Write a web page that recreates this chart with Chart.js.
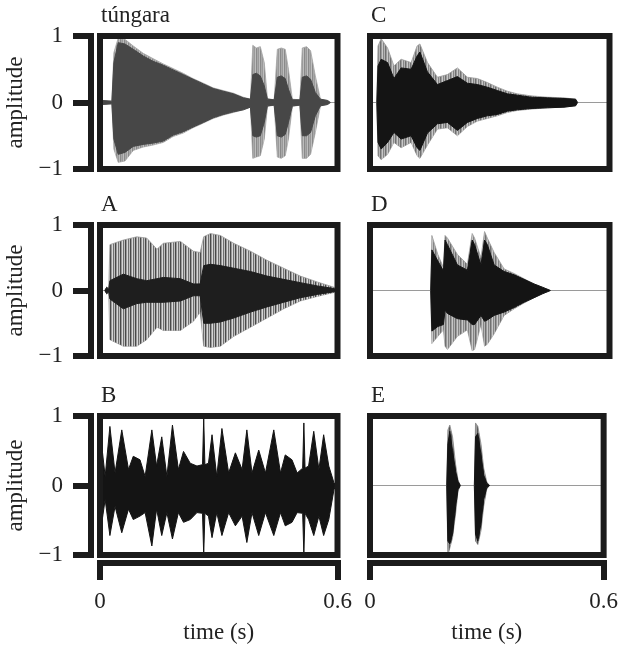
<!DOCTYPE html>
<html>
<head>
<meta charset="utf-8">
<script src="https://cdn.jsdelivr.net/npm/chart.js@4"></script>
<style>
  body { margin: 0; background: #fff; }
  #wrap { position: relative; width: 626px; height: 649px; overflow: hidden; background: #fff; }
  canvas { position: absolute; }
</style>
</head>
<body>
<div id="wrap">
  <canvas id="pTungara" width="360" height="195" style="left:0px;top:0px"></canvas>
  <canvas id="pC" width="281" height="195" style="left:345px;top:0px"></canvas>
  <canvas id="pA" width="360" height="190" style="left:0px;top:195px"></canvas>
  <canvas id="pD" width="281" height="190" style="left:345px;top:195px"></canvas>
  <canvas id="pB" width="360" height="264" style="left:0px;top:385px"></canvas>
  <canvas id="pE" width="281" height="264" style="left:345px;top:385px"></canvas>
</div>
<script>
// axis ticks
const timeTicks = [0, 0.6];
const timeTickLabels = ['0', '0.6'];
const ampTicks = [-1, 0, 1];
const ampTickLabels = ['\u22121', '0', '1'];

// waveform envelopes (time in s, amplitude -1..1)
// body = dense dark part, peak = outer spikes
const tungaraT      = [0, 0.005, 0.030, 0.035, 0.046, 0.063, 0.084, 0.109, 0.134, 0.160, 0.185, 0.210, 0.235, 0.261, 0.286, 0.311, 0.337, 0.362, 0.380, 0.386, 0.395, 0.405, 0.415, 0.423, 0.440, 0.448, 0.458, 0.468, 0.476, 0.486, 0.505, 0.511, 0.522, 0.532, 0.544, 0.557, 0.575, 0.582];
const tungaraBodyHi = [0, 0.03, 0.02, 0.60, 0.90, 0.88, 0.80, 0.70, 0.62, 0.56, 0.49, 0.42, 0.35, 0.28, 0.21, 0.17, 0.13, 0.07, 0.05, 0.42, 0.44, 0.40, 0.25, 0.05, 0.04, 0.38, 0.40, 0.36, 0.20, 0.04, 0.04, 0.38, 0.40, 0.35, 0.15, 0.05, 0.03, 0];
const tungaraBodyLo = [0, -0.03, -0.02, -0.55, -0.78, -0.75, -0.66, -0.63, -0.61, -0.58, -0.49, -0.44, -0.37, -0.30, -0.23, -0.18, -0.14, -0.11, -0.07, -0.50, -0.52, -0.50, -0.30, -0.05, -0.04, -0.50, -0.52, -0.48, -0.30, -0.05, -0.04, -0.50, -0.50, -0.45, -0.20, -0.05, -0.03, 0];
const tungaraPeakHi = [0, 0.03, 0.02, 0.75, 0.97, 0.95, 0.85, 0.74, 0.66, 0.58, 0.51, 0.44, 0.36, 0.29, 0.22, 0.18, 0.14, 0.08, 0.05, 0.86, 0.82, 0.84, 0.60, 0.06, 0.04, 0.80, 0.82, 0.80, 0.50, 0.05, 0.04, 0.82, 0.84, 0.78, 0.40, 0.05, 0.03, 0];
const tungaraPeakLo = [0, -0.03, -0.02, -0.70, -0.90, -0.88, -0.72, -0.67, -0.64, -0.60, -0.51, -0.46, -0.38, -0.31, -0.24, -0.19, -0.15, -0.11, -0.07, -0.84, -0.82, -0.80, -0.55, -0.06, -0.04, -0.82, -0.84, -0.80, -0.55, -0.06, -0.04, -0.84, -0.84, -0.78, -0.45, -0.05, -0.03, 0];

const cT      = [0, 0.017, 0.020, 0.028, 0.044, 0.060, 0.078, 0.103, 0.118, 0.125, 0.144, 0.169, 0.194, 0.219, 0.244, 0.269, 0.294, 0.319, 0.344, 0.369, 0.403, 0.444, 0.486, 0.515, 0.520, 0.600];
const cBodyHi = [0, 0, 0.55, 0.65, 0.60, 0.36, 0.52, 0.50, 0.70, 0.76, 0.46, 0.27, 0.33, 0.39, 0.29, 0.27, 0.23, 0.18, 0.13, 0.11, 0.08, 0.07, 0.06, 0.05, 0, 0];
const cBodyLo = [0, 0, -0.60, -0.70, -0.60, -0.45, -0.55, -0.50, -0.68, -0.72, -0.46, -0.32, -0.30, -0.42, -0.30, -0.24, -0.20, -0.18, -0.13, -0.11, -0.09, -0.08, -0.07, -0.05, 0, 0];
const cPeakHi = [0, 0, 0.85, 0.96, 0.82, 0.55, 0.65, 0.60, 0.85, 0.88, 0.60, 0.38, 0.42, 0.52, 0.38, 0.36, 0.30, 0.23, 0.17, 0.13, 0.10, 0.08, 0.07, 0.05, 0, 0];
const cPeakLo = [0, 0, -0.80, -0.86, -0.78, -0.60, -0.68, -0.60, -0.80, -0.84, -0.64, -0.40, -0.38, -0.50, -0.36, -0.28, -0.24, -0.20, -0.15, -0.12, -0.10, -0.08, -0.07, -0.05, 0, 0];

const aT      = [0, 0.012, 0.017, 0.022, 0.025, 0.059, 0.093, 0.118, 0.144, 0.160, 0.203, 0.236, 0.253, 0.262, 0.279, 0.304, 0.338, 0.380, 0.422, 0.464, 0.506, 0.549, 0.591, 0.600];
const aBodyHi = [0, 0, 0.05, 0.02, 0.15, 0.25, 0.18, 0.15, 0.18, 0.20, 0.18, 0.10, 0.10, 0.38, 0.40, 0.38, 0.34, 0.29, 0.22, 0.17, 0.12, 0.07, 0.03, 0];
const aBodyLo = [0, 0, -0.05, -0.02, -0.13, -0.28, -0.20, -0.18, -0.18, -0.18, -0.16, -0.08, -0.08, -0.50, -0.50, -0.48, -0.42, -0.33, -0.25, -0.18, -0.11, -0.06, -0.02, 0];
const aPeakHi = [0, 0, 0.05, 0.02, 0.70, 0.77, 0.82, 0.80, 0.63, 0.72, 0.75, 0.60, 0.58, 0.82, 0.87, 0.84, 0.72, 0.60, 0.46, 0.34, 0.22, 0.13, 0.05, 0];
const aPeakLo = [0, 0, -0.05, -0.02, -0.75, -0.85, -0.85, -0.75, -0.56, -0.61, -0.61, -0.47, -0.33, -0.85, -0.87, -0.85, -0.70, -0.56, -0.42, -0.28, -0.16, -0.09, -0.03, 0];

const dT      = [0, 0.152, 0.155, 0.170, 0.184, 0.188, 0.194, 0.219, 0.244, 0.256, 0.262, 0.278, 0.287, 0.294, 0.311, 0.336, 0.361, 0.386, 0.411, 0.432, 0.452, 0.600];
const dBodyHi = [0, 0, 0.62, 0.45, 0.30, 0.77, 0.70, 0.39, 0.31, 0.77, 0.70, 0.39, 0.77, 0.70, 0.39, 0.29, 0.24, 0.17, 0.10, 0.05, 0, 0];
const dBodyLo = [0, 0, -0.62, -0.55, -0.52, -0.30, -0.35, -0.43, -0.45, -0.52, -0.52, -0.38, -0.47, -0.45, -0.38, -0.33, -0.26, -0.18, -0.11, -0.05, 0, 0];
const dPeakHi = [0, 0, 0.84, 0.55, 0.35, 0.84, 0.80, 0.55, 0.40, 0.87, 0.80, 0.50, 0.90, 0.80, 0.58, 0.33, 0.26, 0.18, 0.10, 0.05, 0, 0];
const dPeakLo = [0, 0, -0.81, -0.70, -0.60, -0.85, -0.90, -0.70, -0.60, -0.92, -0.90, -0.52, -0.85, -0.82, -0.66, -0.38, -0.28, -0.19, -0.11, -0.05, 0, 0];

const bT  = [0, 0.013, 0.025, 0.038, 0.055, 0.072, 0.084, 0.101, 0.114, 0.131, 0.143, 0.156, 0.169, 0.183, 0.198, 0.211, 0.228, 0.245, 0.259, 0.262, 0.265, 0.274, 0.283, 0.295, 0.308, 0.325, 0.342, 0.359, 0.371, 0.384, 0.401, 0.418, 0.439, 0.456, 0.468, 0.485, 0.498, 0.512, 0.515, 0.518, 0.527, 0.540, 0.553, 0.565, 0.578, 0.591, 0.596];
const bHi = [0.80, 0.13, 0.85, 0.18, 0.80, 0.23, 0.42, 0.37, 0.13, 0.80, 0.28, 0.70, 0.13, 0.87, 0.23, 0.49, 0.32, 0.28, 0.30, 0.97, 0.30, 0.32, 0.73, 0.13, 0.82, 0.18, 0.47, 0.23, 0.80, 0.18, 0.51, 0.18, 0.80, 0.18, 0.44, 0.37, 0.18, 0.25, 0.90, 0.25, 0.28, 0.78, 0.23, 0.73, 0.28, 0.04, 0];
const bLo = [-0.72, -0.20, -0.72, -0.30, -0.68, -0.34, -0.49, -0.44, -0.39, -0.87, -0.34, -0.72, -0.39, -0.77, -0.39, -0.53, -0.49, -0.39, -0.40, -1.00, -0.40, -0.44, -0.75, -0.39, -0.72, -0.39, -0.58, -0.44, -0.82, -0.39, -0.72, -0.39, -0.72, -0.39, -0.58, -0.53, -0.39, -0.40, -0.99, -0.40, -0.49, -0.72, -0.44, -0.72, -0.49, -0.06, 0];

const eT      = [0, 0.197, 0.200, 0.205, 0.212, 0.220, 0.226, 0.232, 0.268, 0.271, 0.277, 0.285, 0.292, 0.300, 0.307, 0.600];
const eBodyHi = [0, 0, 0.60, 0.78, 0.50, 0.20, 0.06, 0, 0, 0.70, 0.75, 0.45, 0.15, 0.03, 0, 0];
const eBodyLo = [0, 0, -0.80, -0.84, -0.70, -0.30, -0.06, 0, 0, -0.70, -0.80, -0.55, -0.20, -0.03, 0, 0];
const ePeakHi = [0, 0, 0.80, 0.87, 0.70, 0.30, 0.08, 0, 0, 0.90, 0.85, 0.60, 0.25, 0.05, 0, 0];
const ePeakLo = [0, 0, -1.00, -0.90, -0.75, -0.40, -0.08, 0, 0, -0.80, -0.85, -0.65, -0.30, -0.05, 0, 0];

const INK = '#1b1b1b';
const TXT = '#222';
const SERIF = "'Liberation Serif', 'DejaVu Serif', serif";
const CLEAR = 'rgba(0,0,0,0)';

// vertical stripe pattern so the spike layer looks like separate oscillations
function stripes(ctx, cols) {
    const c = document.createElement('canvas');
    c.width = cols.length;
    c.height = 1;
    const g = c.getContext('2d');
    cols.forEach((col, i) => { g.fillStyle = col; g.fillRect(i, 0, 1, 1); });
    return ctx.createPattern(c, 'repeat');
}

// no outline where the signal is silent, so only the thin zero line shows there
const hideFlat = {
    borderColor: c => (c.p0.parsed.y === 0 && c.p1.parsed.y === 0) ? CLEAR : undefined
};

function framePlugin(label) {
    return {
        id: 'frame',
        afterDatasetsDraw(chart) {
            const { ctx, chartArea: a } = chart;
            ctx.save();
            ctx.strokeStyle = INK;
            ctx.lineWidth = 6;
            ctx.strokeRect(a.left, a.top, a.right - a.left, a.bottom - a.top);
            ctx.fillStyle = TXT;
            ctx.font = '23px ' + SERIF;
            ctx.textBaseline = 'alphabetic';
            ctx.fillText(label, a.left + 1, a.top - 14);
            ctx.restore();
        }
    };
}

function makePanel(id, label, p, opt) {
    const ctx = document.getElementById(id).getContext('2d');
    const pts = ys => p.t.map((x, i) => ({ x: x, y: ys[i] }));
    const datasets = [
        { data: pts(p.hi), fill: '+1', backgroundColor: p.dark, borderColor: p.dark, borderWidth: 1, order: 0, segment: hideFlat },
        { data: pts(p.lo), fill: false, borderColor: p.dark, borderWidth: 1, order: 0, segment: hideFlat }
    ];
    if (p.peakHi) {
        datasets.push({ data: pts(p.peakHi), fill: '+1', backgroundColor: stripes(ctx, p.stripes), borderColor: p.edge, borderWidth: 0.8, order: 1, segment: hideFlat });
        datasets.push({ data: pts(p.peakLo), fill: false, borderColor: p.edge, borderWidth: 0.8, order: 1, segment: hideFlat });
    }

    const scales = {
        x: {
            type: 'linear', min: 0, max: 0.6, position: 'bottom', weight: 0,
            display: opt.bottom,
            ticks: { display: false },
            grid: { display: false },
            border: { display: false },
            afterFit: s => { s.height = 8; }
        },
        y: {
            type: 'linear', min: -1, max: 1, position: 'left', weight: 0,
            afterBuildTicks: s => { s.ticks = ampTicks.map(v => ({ value: v })); },
            ticks: { display: false },
            grid: {
                drawTicks: false,
                lineWidth: 1,
                color: c => (c.tick && c.tick.value === 0) ? '#9a9a9a' : CLEAR
            },
            border: { display: false },
            afterFit: s => { s.width = opt.left ? 9 : 0; }
        }
    };
    if (opt.left) {
        scales.yb = {
            type: 'linear', min: -1, max: 1, position: 'left', weight: 1,
            afterBuildTicks: s => { s.ticks = ampTicks.map(v => ({ value: v })); },
            afterFit: s => { s.width = 91; },
            ticks: {
                padding: 10, color: TXT, font: { family: SERIF, size: 23 },
                callback: (v, i) => ampTickLabels[i]
            },
            grid: { drawOnChartArea: false, drawTicks: true, tickLength: 18, lineWidth: 6, color: INK },
            border: { display: true, width: 6, color: INK },
            title: { display: true, text: 'amplitude', color: TXT, font: { family: SERIF, size: 23 }, padding: { top: 2, bottom: 0 } }
        };
    }
    if (opt.bottom) {
        scales.xb = {
            type: 'linear', min: 0, max: 0.6, position: 'bottom', weight: 1,
            afterBuildTicks: s => { s.ticks = timeTicks.map(v => ({ value: v })); },
            afterFit: s => { s.height = 86; },
            ticks: {
                padding: 8, autoSkip: false, maxRotation: 0, color: TXT, font: { family: SERIF, size: 23 },
                callback: (v, i) => timeTickLabels[i]
            },
            grid: { drawOnChartArea: false, drawTicks: true, tickLength: 17, lineWidth: 6, color: INK },
            border: { display: true, width: 6, color: INK },
            title: { display: true, text: 'time (s)', color: TXT, font: { family: SERIF, size: 23 }, padding: { top: 0, bottom: 2 } }
        };
    }

    return new Chart(ctx, {
        type: 'line',
        data: { datasets: datasets },
        options: {
            responsive: false,
            animation: false,
            devicePixelRatio: 1,
            layout: { padding: opt.pad },
            elements: { point: { radius: 0 }, line: { tension: 0 } },
            plugins: { legend: { display: false }, tooltip: { enabled: false } },
            scales: scales
        },
        plugins: [framePlugin(label)]
    });
}

var chartTungara = makePanel('pTungara', 't\u00fangara',
    { t: tungaraT, hi: tungaraBodyHi, lo: tungaraBodyLo, peakHi: tungaraPeakHi, peakLo: tungaraPeakLo,
      dark: '#474747', edge: '#a6a6a6', stripes: ['#8a8a8a', '#a8a8a8', '#9a9a9a', '#bdbdbd'] },
    { left: true, bottom: false, pad: { left: 0, right: 22.5, top: 36, bottom: 18 } });

var chartC = makePanel('pC', 'C',
    { t: cT, hi: cBodyHi, lo: cBodyLo, peakHi: cPeakHi, peakLo: cPeakLo,
      dark: '#141414', edge: '#9a9a9a', stripes: ['#707070', '#9a9a9a', '#c8c8c8', '#858585', '#b5b5b5'] },
    { left: false, bottom: false, pad: { left: 25, right: 16.5, top: 36, bottom: 18 } });

var chartA = makePanel('pA', 'A',
    { t: aT, hi: aBodyHi, lo: aBodyLo, peakHi: aPeakHi, peakLo: aPeakLo,
      dark: '#1e1e1e', edge: '#9a9a9a', stripes: ['#4a4a4a', '#9a9a9a', '#d8d8d8', '#707070', '#c0c0c0'] },
    { left: true, bottom: false, pad: { left: 0, right: 22.5, top: 30, bottom: 21 } });

var chartD = makePanel('pD', 'D',
    { t: dT, hi: dBodyHi, lo: dBodyLo, peakHi: dPeakHi, peakLo: dPeakLo,
      dark: '#141414', edge: '#9a9a9a', stripes: ['#707070', '#9a9a9a', '#c8c8c8', '#858585', '#b5b5b5'] },
    { left: false, bottom: false, pad: { left: 25, right: 16.5, top: 30, bottom: 21 } });

var chartB = makePanel('pB', 'B',
    { t: bT, hi: bHi, lo: bLo, dark: '#141414' },
    { left: true, bottom: true, pad: { left: 0, right: 22.5, top: 31, bottom: 0 } });

var chartE = makePanel('pE', 'E',
    { t: eT, hi: eBodyHi, lo: eBodyLo, peakHi: ePeakHi, peakLo: ePeakLo,
      dark: '#141414', edge: '#888888', stripes: ['#555555', '#999999'] },
    { left: false, bottom: true, pad: { left: 25, right: 16.5, top: 31, bottom: 0 } });
</script>
</body>
</html>
